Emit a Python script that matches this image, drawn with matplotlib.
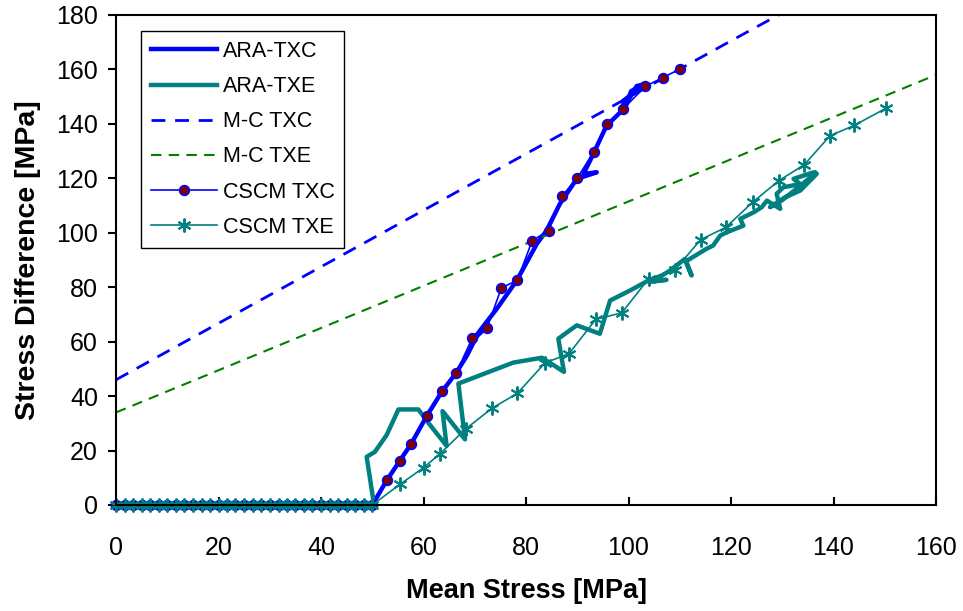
import matplotlib
matplotlib.use("Agg")
from matplotlib import pyplot as plt

plt.rcParams["font.family"] = ["Liberation Sans", "DejaVu Sans"]

# hydrostatic phase (q = 0) shared by both CSCM runs
hydro_p = [0.0, 1.7, 3.3, 5.0, 6.7, 8.3, 10.0, 11.7, 13.3, 15.0, 16.7, 18.3, 20.0,
           21.7, 23.3, 25.0, 26.7, 28.3, 30.0, 31.7, 33.3, 35.0, 36.7, 38.3, 40.0,
           41.7, 43.3, 45.0, 46.7, 48.3, 50.0]
hydro_q = [0.0] * len(hydro_p)

cscm_txc_p = [52.8, 55.5, 57.6, 60.6, 63.6, 66.4, 69.5, 72.4, 75.2, 78.3, 81.2,
              84.4, 87.1, 90.0, 93.2, 95.8, 98.9, 103.3, 106.7, 110.0]
cscm_txc_q = [9.2, 16.0, 22.5, 32.6, 41.7, 48.6, 61.3, 65.1, 79.8, 82.5, 97.1,
              100.8, 113.6, 120.1, 129.7, 139.9, 145.4, 153.8, 157.0, 160.1]

cscm_txe_p = [55.4, 60.0, 63.2, 68.2, 73.4, 78.3, 83.7, 88.4, 93.6, 98.7, 103.9,
              109.1, 114.1, 119.0, 124.2, 129.3, 134.3, 139.3, 144.0, 150.3]
cscm_txe_q = [7.6, 13.7, 18.8, 27.9, 35.6, 41.0, 52.2, 55.6, 68.2, 70.6, 83.1,
              86.5, 97.5, 102.0, 111.2, 119.1, 125.0, 135.6, 139.4, 145.8]

ara_txc_p = [50.0, 52.8, 57.6, 60.6, 63.6, 66.4, 68.5, 70.5, 72.4, 71.5, 69.8,
             72.0, 74.3, 78.2, 82.1, 84.0, 86.6, 89.9, 93.8, 91.2, 92.5, 95.7,
             98.7, 101.6, 103.2, 99.0, 99.0, 100.5, 102.5]
ara_txc_q = [0.0, 9.0, 22.5, 32.6, 41.7, 48.6, 55.0, 62.5, 66.0, 64.0, 61.0,
             66.5, 72.1, 82.5, 95.9, 100.8, 110.6, 119.8, 122.2, 121.6, 126.5,
             139.3, 144.8, 153.9, 154.6, 148.5, 144.0, 152.0, 154.0]

ara_txe_p = [32.0, 50.2, 50.2, 48.9, 50.5, 52.8, 55.1, 59.0, 60.8, 64.5, 63.7,
             68.1, 66.8, 77.5, 83.1, 87.4, 86.3, 89.9, 94.4, 96.4, 100.3, 103.9,
             107.4, 104.5, 108.0, 111.0, 112.3, 111.2, 115.2, 116.5, 117.9, 119.2,
             122.4, 121.8, 124.4, 126.0, 127.0, 129.6, 128.9, 130.2, 133.5, 132.2,
             136.1, 136.7, 133.5, 130.5, 127.6, 130.0, 134.0, 136.5]
ara_txe_q = [0.0, 0.0, 1.8, 17.7, 19.5, 25.7, 35.1, 35.1, 30.5, 21.7, 34.5,
             24.1, 44.6, 52.3, 54.1, 48.9, 61.1, 66.0, 62.9, 75.1, 78.8, 82.5,
             82.7, 82.0, 86.0, 90.4, 84.3, 89.5, 94.1, 95.3, 99.0, 100.2,
             102.6, 105.1, 107.5, 109.4, 111.8, 108.8, 114.3, 116.7, 117.9, 119.8,
             122.2, 121.6, 115.5, 113.0, 109.4, 112.0, 118.0, 122.0]

mc_txc_p = [0, 40, 80, 120, 140]
mc_txc_q = [46, 87.5, 129, 170.5, 191]
mc_txe_p = [0, 40, 80, 120, 160]
mc_txe_q = [34, 65, 96, 127, 158]

BLUE = "#0000FF"
TEAL = "#008080"
GREEN = "#008000"
MAROON = "#800000"


def main():
    fig = plt.figure(figsize=(9.63, 6.11), dpi=100)
    ax = fig.add_axes([0.1205, 0.1735, 0.8515, 0.802])

    ax.plot(ara_txc_p, ara_txc_q, color=BLUE, lw=3.2, label="ARA-TXC",
            solid_joinstyle="round")
    ax.plot(ara_txe_p, ara_txe_q, color=TEAL, lw=3.2, label="ARA-TXE",
            solid_joinstyle="round")
    ax.plot(mc_txc_p, mc_txc_q, color=BLUE, lw=2.0, dashes=(5, 3.5), label="M-C TXC")
    ax.plot(mc_txe_p, mc_txe_q, color=GREEN, lw=1.5, dashes=(5, 3.5), label="M-C TXE")
    ax.plot(hydro_p + cscm_txc_p, hydro_q + cscm_txc_q, color=BLUE, lw=1.2,
            marker="o", ms=7, mfc=MAROON, mec=BLUE, mew=1.2, label="CSCM TXC",
            clip_on=False)
    ax.plot(hydro_p + cscm_txe_p, hydro_q + cscm_txe_q, color=TEAL, lw=1.2,
            marker=(6, 2, 0), ms=10, mec=TEAL, mew=1.4, label="CSCM TXE",
            clip_on=False)

    ax.set_xlim(0, 160)
    ax.set_ylim(0, 180)
    ax.set_xticks(range(0, 161, 20))
    ax.set_yticks(range(0, 181, 20))
    for s in ax.spines.values():
        s.set_linewidth(1.5)
    ax.tick_params(axis="x", direction="in", length=6, width=1.5, pad=22,
                   labelsize=18, top=False)
    ax.tick_params(axis="y", direction="out", length=6, width=1.5, pad=7,
                   labelsize=18, right=False)

    ax.set_xlabel("Mean Stress [MPa]", fontsize=19.5, fontweight="bold")
    ax.set_ylabel("Stress Difference [MPa]", fontsize=20.5, fontweight="bold")
    ax.xaxis.set_label_coords(0.5, -0.149)
    ax.yaxis.set_label_coords(-0.092, 0.5)

    leg = ax.legend(loc="upper left", bbox_to_anchor=(0.0305, 0.967),
                    borderaxespad=0, fontsize=15.5, fancybox=False,
                    edgecolor="black", framealpha=1, handlelength=3.1,
                    handletextpad=0.25, labelspacing=0.66, borderpad=0.45)
    leg.get_frame().set_linewidth(1.0)

    fig.savefig("out.png", dpi=100)


if __name__ == "__main__":
    main()
